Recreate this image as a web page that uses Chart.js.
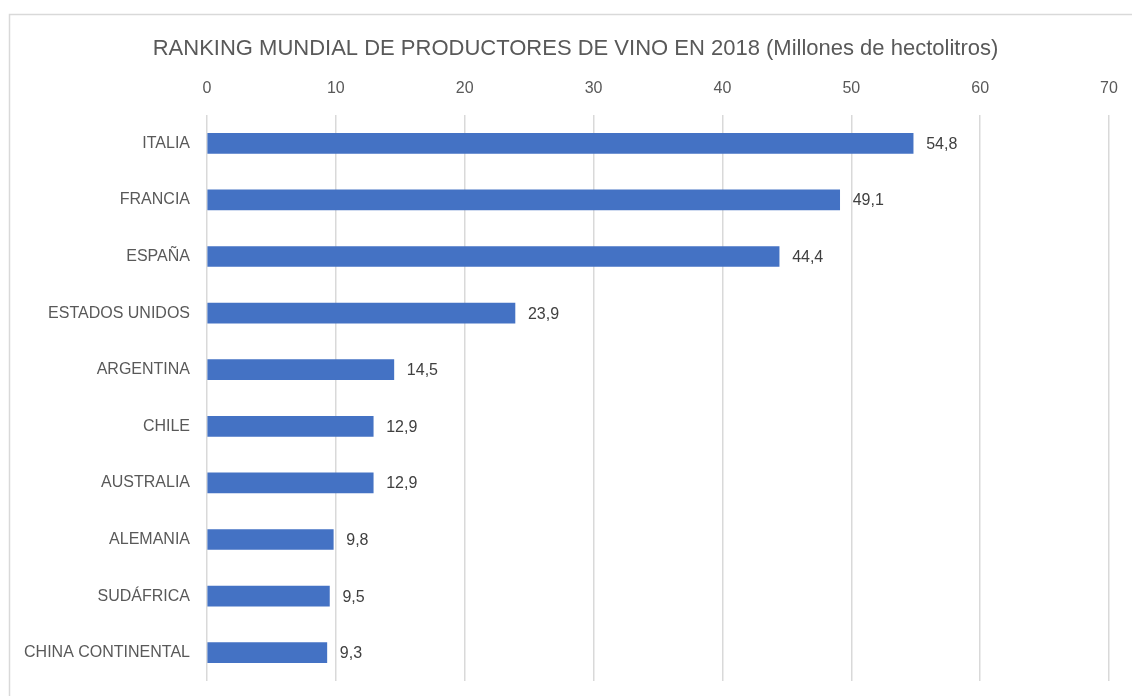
<!DOCTYPE html>
<html>
<head>
<meta charset="utf-8">
<script src="https://cdn.jsdelivr.net/npm/chart.js@4"></script>
<style>
  html, body { margin: 0; padding: 0; background: #fff; }
  #wrap { width: 1132px; height: 696px; }
</style>
</head>
<body>
<div id="wrap"><canvas id="wine-chart" width="1132" height="696"></canvas></div>
<script>
// datos del grafico
const paises = ['ITALIA', 'FRANCIA', 'ESPAÑA', 'ESTADOS UNIDOS', 'ARGENTINA', 'CHILE', 'AUSTRALIA', 'ALEMANIA', 'SUDÁFRICA', 'CHINA CONTINENTAL']
const produccion = [54.8, 49.1, 44.4, 23.9, 14.5, 12.9, 12.9, 9.8, 9.5, 9.3]
const tituloChart = 'RANKING MUNDIAL DE PRODUCTORES DE VINO EN 2018 (Millones de hectolitros)'

const fuente = '"Liberation Sans", "DejaVu Sans", sans-serif'

//! marco gris alrededor del grafico y titulo (centrado como en el original)
const marcoPlugin = {
    id: 'marco',
    beforeDraw(chart){
        const ctx = chart.ctx
        ctx.save()
        ctx.strokeStyle = '#d9d9d9'
        ctx.lineWidth = 1.5
        ctx.strokeRect(9.5, 14.5, 1200, 800)
        ctx.font = '22px ' + fuente
        ctx.fillStyle = '#595959'
        ctx.textAlign = 'center'
        ctx.textBaseline = 'middle'
        ctx.fillText(tituloChart, 575.5, 48.5)
        ctx.restore()
    }
}

//! etiquetas con el valor al final de cada barra
const etiquetasPlugin = {
    id: 'etiquetas',
    afterDatasetsDraw(chart){
        const ctx = chart.ctx
        const meta = chart.getDatasetMeta(0)
        ctx.save()
        ctx.font = '16px ' + fuente
        ctx.fillStyle = '#404040'
        ctx.textAlign = 'left'
        ctx.textBaseline = 'middle'
        meta.data.forEach((bar, i) => {
            const txt = produccion[i].toFixed(1).replace('.', ',')
            ctx.fillText(txt, bar.x + 13, bar.y + 1)
        })
        ctx.restore()
    }
}

const chartVino = document.querySelector('#wine-chart').getContext('2d')
const myChart = new Chart(chartVino, {
    type: 'bar',
    data: {
        labels: paises,
        datasets: [{
            label: 'Millones de hectolitros',
            data: produccion,
            backgroundColor: '#4472C4',
            barThickness: 20
        }]
    },
    options: {
        indexAxis: 'y',
        responsive: false,
        animation: false,
        layout: { padding: { left: 0, right: 23, top: 0, bottom: 15 } },
        plugins: {
            legend: { display: false },
            tooltip: { enabled: false },
            title: { display: false }
        },
        scales: {
            x: {
                position: 'top',
                min: 0,
                max: 70,
                ticks: {
                    stepSize: 10,
                    color: '#595959',
                    padding: 17,
                    font: { family: fuente, size: 16 }
                },
                grid: { color: '#d9d9d9', lineWidth: 1.5, drawTicks: false },
                border: { display: false },
                afterFit(scale){
                    scale.height = 115
                    scale.paddingLeft = 0
                    scale.paddingRight = 0
                }
            },
            y: {
                ticks: {
                    color: '#595959',
                    padding: 17,
                    font: { family: fuente, size: 16 }
                },
                grid: { display: false, drawTicks: false },
                border: { display: false },
                afterFit(scale){
                    scale.width = 207
                    scale.paddingTop = 0
                    scale.paddingBottom = 0
                }
            }
        }
    },
    plugins: [marcoPlugin, etiquetasPlugin]
})
</script>
</body>
</html>
